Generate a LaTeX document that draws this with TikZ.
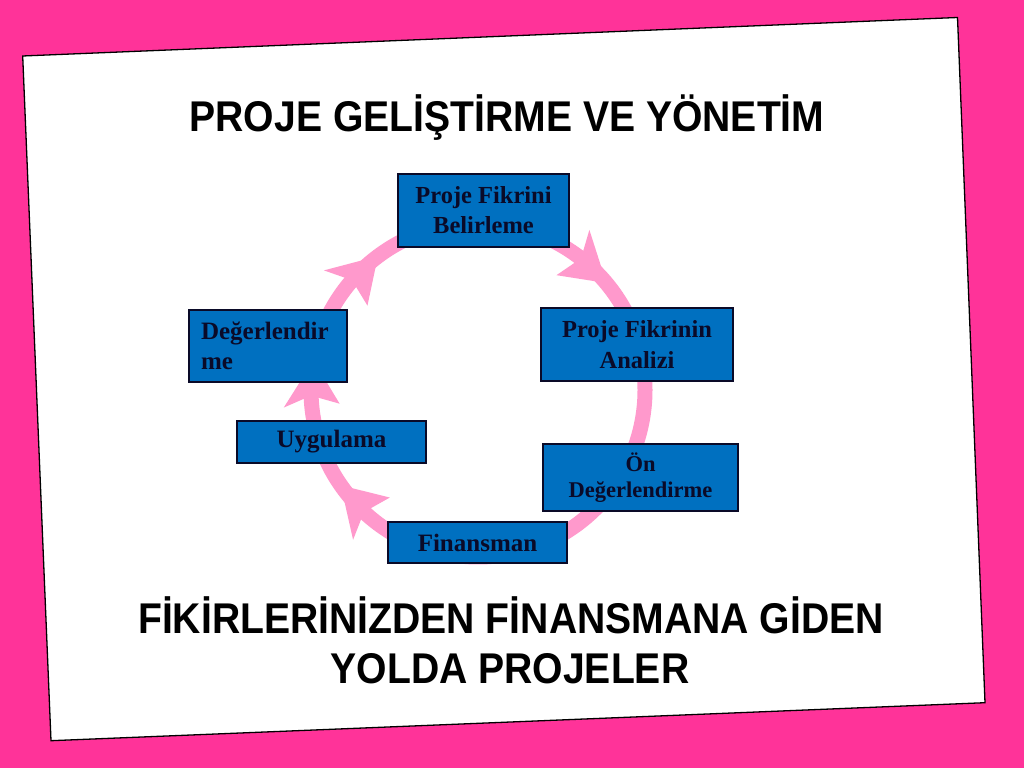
\documentclass[tikz,border=0pt]{standalone}
\usepackage{fontspec}
\setmainfont{Liberation Serif}
\newfontfamily\titlefont{Liberation Sans}
\definecolor{bgpink}{RGB}{255,51,153}
\definecolor{ringpink}{RGB}{255,153,204}
\definecolor{boxblue}{RGB}{0,112,192}
\definecolor{boxtext}{RGB}{10,10,40}
\begin{document}
\begin{tikzpicture}[x=1pt,y=1pt,
  box/.style={draw=boxtext, line width=1.2pt, fill=boxblue, text=boxtext,
    font=\bfseries\fontsize{25}{30}\selectfont, align=center, inner sep=0pt},
  ring/.style={draw=ringpink, line width=15pt},
  head/.style={fill=ringpink, draw=none},
  title/.style={font=\titlefont\bfseries\fontsize{43}{50}\selectfont,
    align=center, text=black, xscale=0.91, transform shape, inner sep=0pt}]
\fill[bgpink] (0,0) rectangle (1024,768);
\useasboundingbox (0,0) rectangle (1024,768);
% card
\filldraw[fill=white, draw=black, line width=1.3pt]
  (22.7,712) -- (957.5,750.5) -- (985,65.3) -- (51,27.3) -- cycle;
% titles
\node[title, anchor=base] (t1) at (507,636) {PROJE GELİŞTİRME VE YÖNETİM};
\node[title, anchor=base] (t2a) at (511,135) {FİKİRLERİNİZDEN FİNANSMANA GİDEN};
\node[title, anchor=base] (t2b) at (510,85) {YOLDA PROJELER};
% ring
\coordinate (c) at (478,378);
\draw[ring] (c) circle (167);
\foreach \a in {54,141,184,229}{
  \fill[head, shift={(c)}, rotate=\a]
    (139,4) -- (162,-41) -- (195,4) -- (167,-6) -- cycle;
}
% boxes
\node[box, minimum width=171, minimum height=73, font=\bfseries\fontsize{24.5}{30}\selectfont] (n1) at (483.5,557.5) {Proje Fikrini\\Belirleme};
\node[box, minimum width=192, minimum height=73, font=\bfseries\fontsize{24.5}{31}\selectfont] (n2) at (637,423.5) {Proje Fikrinin\\Analizi};
\node[box, minimum width=195, minimum height=67, font=\bfseries\fontsize{22.5}{26}\selectfont] (n3) at (640.5,290.5) {Ön\\Değerlendirme};
\node[box, minimum width=179, minimum height=41] (n4) at (477.5,225.5) {Finansman};
\node[box, minimum width=189, minimum height=42] (n5) at (331.5,326) {Uygulama};
\node[box, minimum width=158, minimum height=72, align=left, text width=134] (n6) at (268,422) {Değerlendir\\me};
\end{tikzpicture}
\end{document}
